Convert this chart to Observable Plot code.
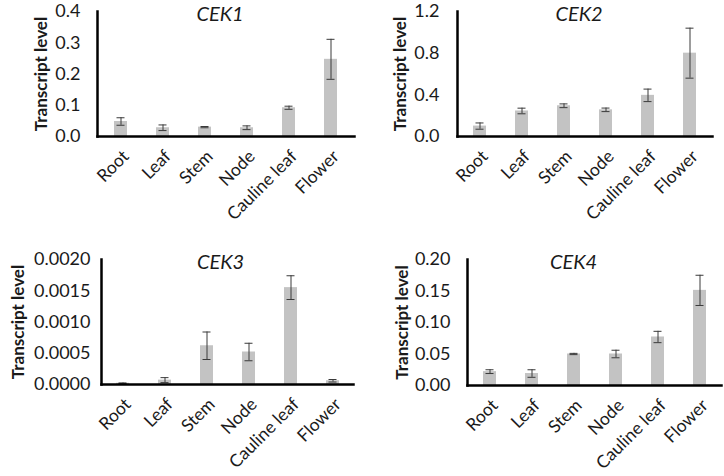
<!DOCTYPE html>
<html>
<head>
<meta charset="utf-8">
<script src="https://cdn.jsdelivr.net/npm/d3@7"></script>
<script src="https://cdn.jsdelivr.net/npm/@observablehq/plot@0.6"></script>
<style>
  body { margin: 0; background: #fff; }
  #wrap { position: relative; width: 724px; height: 476px; overflow: hidden; }
  .panel { position: absolute; }
  g[aria-label="ylabel"] text { letter-spacing: 0.2px; }
</style>
</head>
<body>
<div id="wrap"></div>
<script>
const categories = ["Root", "Leaf", "Stem", "Node", "Cauline leaf", "Flower"];
const titles = ["CEK1", "CEK2", "CEK3", "CEK4"];
const yLabel = "Transcript level";

const cek1 = [0.048, 0.028, 0.030, 0.028, 0.092, 0.247];
const cek1Err = [0.012, 0.009, 0.002, 0.006, 0.005, 0.064];
const cek2 = [0.10, 0.245, 0.295, 0.256, 0.395, 0.80];
const cek2Err = [0.03, 0.027, 0.018, 0.017, 0.06, 0.24];
const cek3 = [0.00002, 0.00007, 0.00062, 0.00052, 0.00155, 0.00006];
const cek3Err = [0.000005, 0.00004, 0.00022, 0.00014, 0.00019, 0.00002];
const cek4 = [0.022, 0.019, 0.050, 0.050, 0.077, 0.151];
const cek4Err = [0.003, 0.006, 0.001, 0.006, 0.009, 0.024];

const ticks1 = [0, 0.1, 0.2, 0.3, 0.4];
const ticks2 = [0, 0.4, 0.8, 1.2];
const ticks3 = [0, 0.0005, 0.0010, 0.0015, 0.0020];
const ticks4 = [0, 0.05, 0.10, 0.15, 0.20];

const FONT = "Lato, 'Open Sans', sans-serif";

const panels = [
  {title: titles[0], vals: cek1, errs: cek1Err, ticks: ticks1, fmt: ".1f", left: 0, top: 0,
   m: {l: 97, r: 8, t: 11, b: 102}, labDx: -56, titleDx: -6, tickPad: 17},
  {title: titles[1], vals: cek2, errs: cek2Err, ticks: ticks2, fmt: ".1f", left: 362, top: 0,
   m: {l: 95, r: 12, t: 11, b: 102}, labDx: -57, titleDx: -6, tickPad: 18},
  {title: titles[2], vals: cek3, errs: cek3Err, ticks: ticks3, fmt: ".4f", left: 0, top: 238,
   m: {l: 101, r: 9, t: 21, b: 92}, labDx: -83, titleDx: -7, tickPad: 11},
  {title: titles[3], vals: cek4, errs: cek4Err, ticks: ticks4, fmt: ".2f", left: 362, top: 238,
   m: {l: 105, r: 3, t: 21, b: 91}, labDx: -65, titleDx: -21, tickPad: 17}
];

const wrap = document.getElementById("wrap");
for (const p of panels) {
  const data = categories.map((c, i) => ({cat: c, v: p.vals[i], lo: p.vals[i] - p.errs[i], hi: p.vals[i] + p.errs[i]}));
  const chart = Plot.plot({
    width: 362,
    height: 238,
    marginLeft: p.m.l, marginRight: p.m.r, marginTop: p.m.t, marginBottom: p.m.b,
    style: {fontFamily: FONT, color: "#1a1a1a", background: "transparent", overflow: "visible"},
    x: {domain: categories, paddingInner: 0.7, paddingOuter: 0.35, label: null},
    y: {domain: [p.ticks[0], p.ticks[p.ticks.length - 1]], label: null},
    marks: [
      Plot.barY(data, {x: "cat", y: "v", fill: "#c3c3c3"}),
      Plot.ruleX(data, {x: "cat", y1: "lo", y2: "hi", stroke: "#3a3a3a", strokeWidth: 1}),
      Plot.tickY(data, {x: "cat", y: "lo", stroke: "#3a3a3a", strokeWidth: 1, insetLeft: 2.5, insetRight: 2.5}),
      Plot.tickY(data, {x: "cat", y: "hi", stroke: "#3a3a3a", strokeWidth: 1, insetLeft: 2.5, insetRight: 2.5}),
      Plot.axisY({ticks: p.ticks, tickFormat: d3.format(p.fmt), tickSize: 0, tickPadding: p.tickPad, fontSize: 18, label: null}),
      Plot.axisX({tickRotate: -45, tickSize: 0, tickPadding: 17, dx: 5, fontSize: 17.5, label: null}),
      Plot.frame({anchor: "left", stroke: "#000", strokeWidth: 2.5}),
      Plot.frame({anchor: "bottom", stroke: "#000", strokeWidth: 2.5}),
      Plot.text([yLabel], {text: d => d, ariaLabel: "ylabel", frameAnchor: "left", textAnchor: "middle", lineAnchor: "middle", rotate: -90, dx: p.labDx, fontWeight: "bold", fontSize: 17}),
      Plot.text([p.title], {text: d => d, frameAnchor: "top", dx: p.titleDx, dy: -5, fontStyle: "italic", fontSize: 20})
    ]
  });
  const div = document.createElement("div");
  div.className = "panel";
  div.style.left = p.left + "px";
  div.style.top = p.top + "px";
  div.appendChild(chart);
  wrap.appendChild(div);
}
</script>
</body>
</html>
